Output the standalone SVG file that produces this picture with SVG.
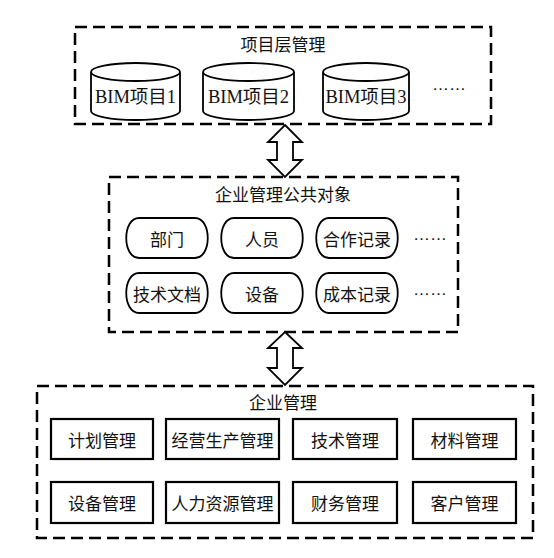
<svg xmlns="http://www.w3.org/2000/svg" width="554" height="558" viewBox="0 0 554 558">
<style>
.grp{fill:none;stroke:#000;stroke-width:2.5;stroke-dasharray:12 6}
.nd{fill:#fff;stroke:#000;stroke-width:1.8}
.bx{fill:#fff;stroke:#000;stroke-width:2.2}
.t{font-family:"Noto Sans CJK SC","Liberation Sans",sans-serif;font-size:17px;fill:#111;text-anchor:middle;dominant-baseline:central}
.s{font-family:"Liberation Serif","Noto Sans CJK SC",serif;font-size:18.5px;fill:#111;text-anchor:middle;dominant-baseline:central}
.d{font-family:"Liberation Sans",sans-serif;font-size:17px;fill:#111}
.arr{fill:#fff;stroke:#000;stroke-width:1.8;stroke-linejoin:miter}
</style>
<rect width="554" height="558" fill="#fff"/>

<g id="project-layer">
<rect class="grp" x="75" y="27" width="416" height="97"/>
<text class="t" x="283" y="43">项目层管理</text>
</g>
<g id="bim1">
<path class="nd" d="M91,72 V111 A44.5,9 0 0 0 180,111 V72 A44.5,9 0 0 0 91,72 Z M91,72 A44.5,9 0 0 0 180,72"/>
<text class="s" x="135.5" y="97">BIM项目1</text>
</g>
<g id="bim2">
<path class="nd" d="M203,72 V111 A45.5,9 0 0 0 294,111 V72 A45.5,9 0 0 0 203,72 Z M203,72 A45.5,9 0 0 0 294,72"/>
<text class="s" x="248.5" y="97">BIM项目2</text>
</g>
<g id="bim3">
<path class="nd" d="M323,72 V111 A43,9 0 0 0 409,111 V72 A43,9 0 0 0 323,72 Z M323,72 A43,9 0 0 0 409,72"/>
<text class="s" x="366" y="97">BIM项目3</text>
</g>
<text class="d" x="432" y="90">……</text>

<g id="common-objects">
<rect class="grp" x="109" y="177" width="349" height="155"/>
<text class="t" x="283" y="193">企业管理公共对象</text>
</g>
<g id="dept">
<path class="nd" d="M139,218 H195 C212,218 212,258 195,258 H139 C122,258 122,218 139,218 Z"/>
<text class="t" x="167" y="238">部门</text>
</g>
<g id="staff">
<path class="nd" d="M234,218 H290 C307,218 307,258 290,258 H234 C217,258 217,218 234,218 Z"/>
<text class="t" x="262" y="238">人员</text>
</g>
<g id="coop">
<path class="nd" d="M329,218 H385 C402,218 402,258 385,258 H329 C312,258 312,218 329,218 Z"/>
<text class="t" x="357" y="238">合作记录</text>
</g>
<text class="d" x="413" y="240">……</text>
<g id="techdoc">
<path class="nd" d="M139,273 H195 C212,273 212,313 195,313 H139 C122,313 122,273 139,273 Z"/>
<text class="t" x="167" y="293">技术文档</text>
</g>
<g id="equip">
<path class="nd" d="M234,273 H290 C307,273 307,313 290,313 H234 C217,313 217,273 234,273 Z"/>
<text class="t" x="262" y="293">设备</text>
</g>
<g id="cost">
<path class="nd" d="M329,273 H385 C402,273 402,313 385,313 H329 C312,313 312,273 329,273 Z"/>
<text class="t" x="357" y="293">成本记录</text>
</g>
<text class="d" x="413" y="295">……</text>

<g id="enterprise">
<rect class="grp" x="37" y="386" width="496" height="152"/>
<text class="t" x="283" y="401">企业管理</text>
</g>
<g id="plan"><rect class="bx" x="51" y="419" width="102" height="40"/><text class="t" x="102" y="439">计划管理</text></g>
<g id="business"><rect class="bx" x="166" y="419" width="113" height="40"/><text class="t" x="222.5" y="439">经营生产管理</text></g>
<g id="tech"><rect class="bx" x="293" y="419" width="104" height="40"/><text class="t" x="345" y="439">技术管理</text></g>
<g id="material"><rect class="bx" x="413" y="419" width="103" height="40"/><text class="t" x="464.5" y="439">材料管理</text></g>
<g id="equipment"><rect class="bx" x="51" y="482" width="102" height="41"/><text class="t" x="102" y="502.5">设备管理</text></g>
<g id="hr"><rect class="bx" x="166" y="482" width="113" height="41"/><text class="t" x="222.5" y="502.5">人力资源管理</text></g>
<g id="finance"><rect class="bx" x="293" y="482" width="104" height="41"/><text class="t" x="345" y="502.5">财务管理</text></g>
<g id="customer"><rect class="bx" x="413" y="482" width="103" height="41"/><text class="t" x="464.5" y="502.5">客户管理</text></g>

<g id="connectors">
<path class="arr" d="M285,125 L302,142 H293 V160 H302 L285,177 L268,160 H277 V142 H268 Z"/>
<path class="arr" d="M285,332 L302,348 H293 V368 H302 L285,385 L268,368 H277 V348 H268 Z"/>
</g>
</svg>
